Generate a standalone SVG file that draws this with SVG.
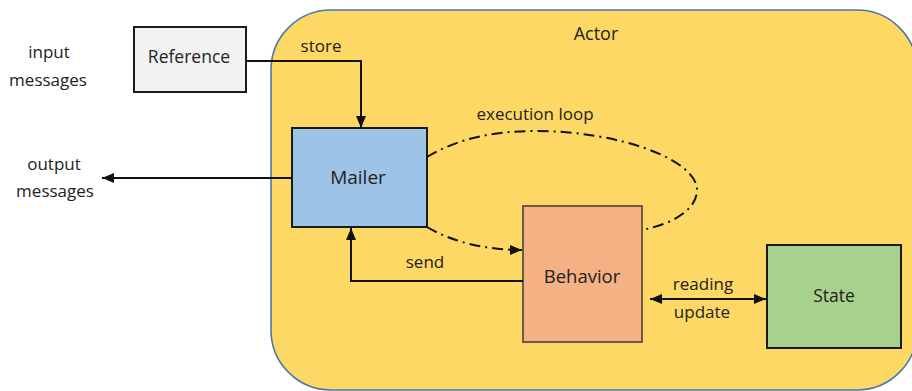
<svg xmlns="http://www.w3.org/2000/svg" width="912" height="391" viewBox="0 0 912 391">
  <style>
    text { font-family: "Open Sans", "Liberation Sans", sans-serif; fill: #222; text-anchor: middle; }
    .lbl { font-size: 17px; }
    .box { stroke-width: 2; }
    .wire { fill: none; stroke: #111; stroke-width: 2; }
    .loop { fill: none; stroke: #111; stroke-width: 2; stroke-dasharray: 11 5 2 5; }
  </style>
  <defs>
    <marker id="arrow" viewBox="0 0 12 10" refX="12" refY="5" markerWidth="12" markerHeight="10" markerUnits="userSpaceOnUse" orient="auto-start-reverse">
      <path d="M0,0 L12,5 L0,10 z" fill="#111"/>
    </marker>
  </defs>

  <!-- outside labels -->
  <text class="lbl" x="49" y="58">input</text>
  <text class="lbl" x="48" y="86">messages</text>
  <text class="lbl" x="54" y="170">output</text>
  <text class="lbl" x="55" y="197">messages</text>

  <!-- actor container -->
  <g id="actor">
    <rect x="271" y="10" width="646" height="380" rx="60" ry="60" fill="#FDD865" stroke="#4A78A8" stroke-width="1.6"/>
    <text x="596" y="40" font-size="18">Actor</text>
  </g>

  <g id="reference">
    <rect class="box" x="134" y="27" width="112" height="65" fill="#F2F2F2" stroke="#1a1a1a"/>
    <text x="189" y="63" font-size="17.5">Reference</text>
  </g>

  <g id="mailer">
    <rect class="box" x="292" y="128" width="135" height="99" fill="#9DC3E6" stroke="#1a1a1a"/>
    <text x="358" y="184" font-size="19">Mailer</text>
  </g>

  <g id="behavior">
    <rect x="523" y="206" width="119" height="136" fill="#F4B183" stroke="#5E5043" stroke-width="1.8"/>
    <text x="582" y="283" font-size="18.5">Behavior</text>
  </g>

  <g id="state">
    <rect class="box" x="767" y="245" width="134" height="103" fill="#A9D18E" stroke="#1a1a1a"/>
    <text x="834" y="302" font-size="17.5">State</text>
  </g>

  <!-- connectors -->
  <g id="connectors">
    <path class="wire" d="M246,61 H361 V128" marker-end="url(#arrow)"/>
    <text class="lbl" x="321" y="52">store</text>

    <path class="wire" d="M292,178 H102" marker-end="url(#arrow)"/>

    <path class="wire" d="M523,281 H351 V228" marker-end="url(#arrow)"/>
    <text class="lbl" x="425" y="268">send</text>

    <!-- execution loop: upper sweep from Mailer round to Behavior, lower return into Behavior -->
    <path class="loop" d="M427,157 C455,140 490,131 535,131 C620,131 697,160 697,190 C697,210 672,224 642,230"/>
    <path class="loop" d="M427,227 C452,242 486,250 522,250" marker-end="url(#arrow)"/>
    <text class="lbl" x="535" y="120">execution loop</text>

    <path class="wire" d="M650,299 H766" marker-start="url(#arrow)" marker-end="url(#arrow)"/>
    <text class="lbl" x="703" y="290">reading</text>
    <text class="lbl" x="702" y="318">update</text>
  </g>
</svg>
